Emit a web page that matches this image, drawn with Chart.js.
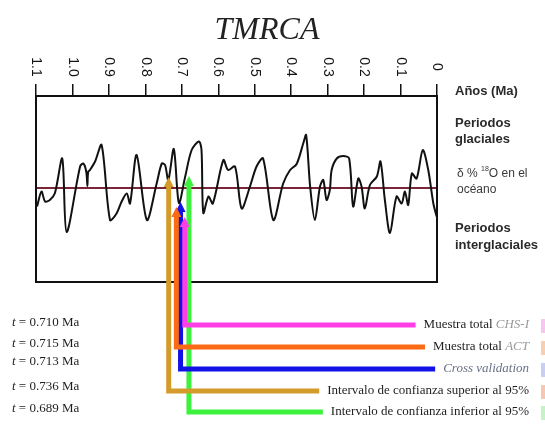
<!DOCTYPE html>
<html>
<head>
<meta charset="utf-8">
<script src="https://cdn.jsdelivr.net/npm/chart.js@4/dist/chart.umd.min.js"></script>
<style>
  html, body { margin: 0; padding: 0; background: #fff; }
  canvas { display: block; }
</style>
</head>
<body>
<canvas id="tmrca" width="545" height="424"></canvas>
<script>
// Oxygen-isotope record over the last 1.1 Ma (age in Ma, anomaly around the mean)
const ages = [
  1.097, 1.085, 1.075, 1.062, 1.048, 1.028, 1.016, 0.979, 0.970, 0.962,
  0.959, 0.957, 0.952, 0.938, 0.920, 0.897, 0.879, 0.865, 0.851, 0.842,
  0.824, 0.796, 0.769, 0.755, 0.746, 0.737, 0.722, 0.708, 0.691, 0.673,
  0.653, 0.646, 0.641, 0.627, 0.615, 0.586, 0.573, 0.554, 0.536, 0.513,
  0.495, 0.477, 0.449, 0.422, 0.403, 0.385, 0.367, 0.359, 0.348, 0.335,
  0.321, 0.312, 0.303, 0.294, 0.289, 0.275, 0.257, 0.241, 0.230, 0.216,
  0.207, 0.198, 0.184, 0.165, 0.155, 0.143, 0.129, 0.111, 0.097, 0.088,
  0.079, 0.069, 0.056, 0.039, 0.024, 0.010, 0.001
];
const isotope = [
  -0.37, -0.07, -0.27, -0.24, -0.10, 0.59, -0.88, 0.43, 0.49, 0.32,
   0.04, 0.32, 0.36, 0.53, 0.86, -0.64, -0.51, -0.27, -0.11, -0.31,
   0.66, -0.64, 0.09, 0.49, 0.46, 0.16, 0.78, -0.30, 0.22, 0.76,
   0.93, 0.76, -0.50, -0.17, -0.31, 0.56, 0.36, 0.43, -0.41, 0.03,
   0.43, 0.59, -0.64, 0.09, 0.36, 0.48, 0.89, 1.06, 0.03, -0.64,
   0.03, 0.16, -0.24, -0.04, 0.36, 0.59, 0.64, 0.59, -0.37, 0.19,
   0.03, -0.41, 0.06, 0.23, 0.53, -0.24, -0.90, -0.17, -0.31, -0.07,
  -0.34, 0.29, 0.19, 0.76, 0.36, -0.31, -0.57
];

// Age axis
const tickValues = [1.1, 1.0, 0.9, 0.8, 0.7, 0.6, 0.5, 0.4, 0.3, 0.2, 0.1, 0];
const tickLabels = ['1.1', '1.0', '0.9', '0.8', '0.7', '0.6', '0.5', '0.4', '0.3', '0.2', '0.1', '0'];

// TMRCA estimates (Ma) and where each arrow points on the isotope scale
const estimateNames = ['Muestra total ', 'Muestra total ', '', 'Intervalo de confianza superior al 95%', 'Intervalo de confianza inferior al 95%'];
const estimateTags  = ['CHS-I', 'ACT', 'Cross validation', '', ''];
const estimates     = [0.710, 0.715, 0.713, 0.736, 0.689];
const arrowTips     = [-0.58, -0.38, -0.28, 0.22, 0.24];
const estimateColors = ['#ff3ee6', '#fb6a14', '#1212e6', '#d39c2a', '#3cf23c'];
const swatchColors   = ['#f8c4f0', '#f9cfb0', '#c9cef4', '#f6c8ae', '#c4f3c6'];

const SANS = '"Liberation Sans", Arial, sans-serif';
const SERIF = '"Liberation Serif", "Times New Roman", serif';

const annotate = {
  id: 'annotate',
  afterDatasetsDraw(chart) {
    const { ctx, chartArea: area, scales: { x: xs, y: ys } } = chart;
    ctx.save();

    // plot frame
    ctx.strokeStyle = '#111';
    ctx.lineWidth = 2;
    ctx.strokeRect(area.left, area.top, area.right - area.left, area.bottom - area.top);

    // rotated age labels above the tick marks
    ctx.fillStyle = '#141414';
    ctx.font = '14px ' + SANS;
    ctx.textAlign = 'center';
    ctx.textBaseline = 'middle';
    tickValues.forEach((v, i) => {
      ctx.save();
      ctx.translate(xs.getPixelForValue(v), area.top - 29);
      ctx.rotate(Math.PI / 2);
      ctx.fillText(tickLabels[i], 0, 0);
      ctx.restore();
    });

    // title
    ctx.font = 'italic 32px ' + SERIF;
    ctx.fillStyle = '#222';
    ctx.textBaseline = 'alphabetic';
    ctx.fillText('TMRCA', 267, 39);

    // right-hand captions
    const rx = area.right + 18;
    ctx.textAlign = 'left';
    ctx.textBaseline = 'middle';
    ctx.fillStyle = '#2a2a2a';
    ctx.font = 'bold 13px ' + SANS;
    ctx.fillText('Años (Ma)', rx, area.top - 5);
    ctx.fillText('Periodos', rx, area.top + 27);
    ctx.fillText('glaciales', rx, area.top + 43);
    ctx.fillText('Periodos', rx, area.top + 132);
    ctx.fillText('interglaciales', rx, area.top + 149);
    ctx.fillStyle = '#3a3a3a';
    ctx.font = '12px ' + SANS;
    let cx = rx + 2;
    const isoY = area.top + 78;
    ctx.fillText('δ % ', cx, isoY);
    cx += ctx.measureText('δ % ').width;
    ctx.font = '7px ' + SANS;
    ctx.fillText('18', cx, isoY - 5);
    cx += ctx.measureText('18').width;
    ctx.font = '12px ' + SANS;
    ctx.fillText('O en el', cx, isoY);
    ctx.fillText('océano', rx + 2, area.top + 94);

    // estimate arrows, dodged so neighbouring bars stay visible
    const rowOffsets = [43, 65, 87, 109, 130];
    const labelOffsets = [40.5, 61.5, 79.5, 105, 126.5];
    const textRight = 529;
    const order = estimates.map((v, i) => i).sort((a, b) => estimates[b] - estimates[a]);
    const laneX = [];
    let prev = -Infinity;
    order.forEach(i => {
      const px = Math.max(xs.getPixelForValue(estimates[i]), prev + 4.2);
      laneX[i] = px;
      prev = px;
    });

    const measureRow = i => {
      ctx.font = '13px ' + SERIF;
      const w1 = ctx.measureText(estimateNames[i]).width;
      ctx.font = 'italic 13px ' + SERIF;
      const w2 = ctx.measureText(estimateTags[i]).width;
      return [w1, w2];
    };

    [4, 3, 2, 1, 0].forEach(i => {
      const x = laneX[i];
      const rowY = area.bottom + rowOffsets[i];
      const tipY = ys.getPixelForValue(arrowTips[i]);
      const [w1, w2] = measureRow(i);
      const textStart = textRight - w1 - w2;
      ctx.strokeStyle = estimateColors[i];
      ctx.fillStyle = estimateColors[i];
      ctx.lineWidth = 5;
      ctx.lineJoin = 'miter';
      ctx.lineCap = 'butt';
      ctx.beginPath();
      ctx.moveTo(x, tipY + 8);
      ctx.lineTo(x, rowY);
      ctx.lineTo(textStart - 8, rowY);
      ctx.stroke();
      ctx.beginPath();
      ctx.moveTo(x, tipY);
      ctx.lineTo(x + 5, tipY + 10);
      ctx.lineTo(x - 5, tipY + 10);
      ctx.closePath();
      ctx.fill();
    });

    // series captions and colour swatches
    estimates.forEach((t, i) => {
      const rowY = area.bottom + rowOffsets[i];
      const [w1, w2] = measureRow(i);
      const start = textRight - w1 - w2;
      ctx.textAlign = 'left';
      ctx.textBaseline = 'middle';
      ctx.font = '13px ' + SERIF;
      ctx.fillStyle = '#1e1e1e';
      ctx.fillText(estimateNames[i], start, rowY);
      ctx.font = 'italic 13px ' + SERIF;
      ctx.fillStyle = i === 2 ? '#6a6f86' : '#9a9a9a';
      ctx.fillText(estimateTags[i], start + w1, rowY);
      ctx.fillStyle = swatchColors[i];
      ctx.fillRect(541, rowY - 6, 4, 14);

      // estimate values on the left
      const ly = area.bottom + labelOffsets[i];
      ctx.fillStyle = '#1e1e1e';
      ctx.font = 'italic 13px ' + SERIF;
      ctx.fillText('t', 12, ly);
      const tw = ctx.measureText('t').width;
      ctx.font = '13px ' + SERIF;
      ctx.fillText(' = ' + t.toFixed(3) + ' Ma', 12 + tw, ly);
    });

    ctx.restore();
  }
};

new Chart(document.getElementById('tmrca'), {
  type: 'line',
  data: {
    datasets: [
      {
        data: ages.map((a, i) => ({ x: a, y: isotope[i] })),
        borderColor: '#111',
        borderWidth: 2,
        pointRadius: 0,
        tension: 0.3,
        fill: false,
        order: 1
      },
      {
        data: [{ x: 1.1, y: 0 }, { x: 0, y: 0 }],
        borderColor: '#7a2638',
        borderWidth: 2,
        pointRadius: 0,
        fill: false,
        order: 2
      }
    ]
  },
  options: {
    responsive: false,
    animation: false,
    devicePixelRatio: 1,
    layout: { padding: { left: 36, right: 108, top: 84, bottom: 142 } },
    plugins: { legend: { display: false }, tooltip: { enabled: false }, title: { display: false } },
    scales: {
      x: {
        type: 'linear',
        position: 'top',
        reverse: true,
        min: 0,
        max: 1.1,
        ticks: { display: false, stepSize: 0.1 },
        grid: { drawOnChartArea: false, drawTicks: true, tickLength: 12, color: '#111', lineWidth: 1.5 },
        border: { display: true, color: '#111', width: 2 },
        afterFit(scale) { scale.height = 12; }
      },
      y: { display: false, min: -1.88, max: 1.84 }
    }
  },
  plugins: [annotate]
});
</script>
</body>
</html>
